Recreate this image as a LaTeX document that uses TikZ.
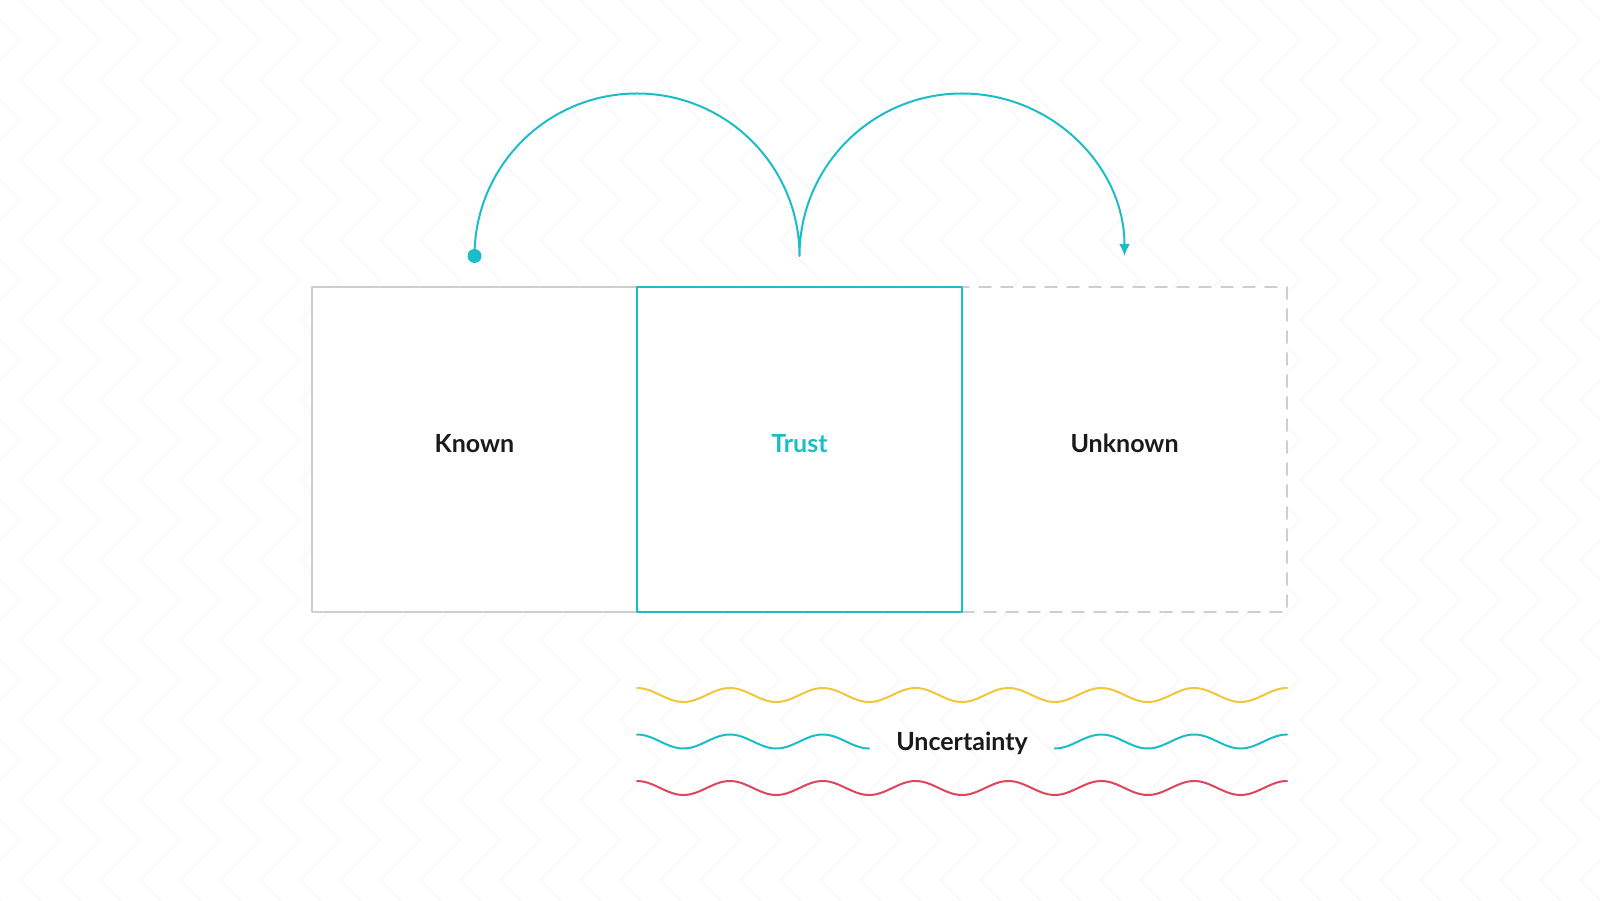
\documentclass[tikz,border=0pt]{standalone}
\usepackage{fontspec}
\setmainfont{Lato}
\usetikzlibrary{arrows.meta, positioning}

\definecolor{trustteal}{RGB}{27,190,199}
\definecolor{waveyellow}{RGB}{240,199,58}
\definecolor{wavered}{RGB}{221,70,95}
\definecolor{boxgrey}{RGB}{206,206,206}
\definecolor{zigzaggrey}{RGB}{247,245,250}
\definecolor{labelblack}{RGB}{26,26,26}

\tikzset{
	zone/.style={draw=boxgrey, line width=1.6pt, fill=white, minimum size=325pt,
		inner sep=0pt, outer sep=0pt, text=labelblack, text height=18pt, text depth=11pt},
	zigzag/.style={draw=zigzaggrey, line width=1.4pt},
	jump/.style={draw=trustteal, line width=2pt},
	wave/.style={line width=2pt},
}

\begin{document}
\begin{tikzpicture}[x=1pt, y=1pt, >=Latex, line cap=round, line join=round,
	font=\fontsize{25}{30}\selectfont\bfseries]

%========================
% Background: zigzag columns
%========================
\fill[white] (0,0) rectangle (1600,900);
\useasboundingbox (0,0) rectangle (1600,900);
\begin{scope}
	\clip (0,0) rectangle (1600,900);
	\foreach \k in {-1,...,39}
	\draw[zigzag] ({20+40*\k},900)
	\foreach \m in {1,...,23} { -- ({20+40*\k+40*mod(\m,2)},{900-40*\m}) };
\end{scope}

%========================
% Boxes: known | trust | unknown
%========================
\node[zone] (known) at (474.5,450.5) {Known};
\node[zone, right=0pt of known, draw=none] (trust) {};
\node[zone, right=0pt of trust, dash pattern=on 12pt off 10pt] (unknown) {Unknown};
% trust on top, so its teal border covers the shared edges
\node[zone, draw=trustteal, line width=2pt, text=trustteal, at=(trust)] (trustbox) {Trust};

%========================
% Jumps over the boxes
%========================
\coordinate (jumpstart) at ([yshift=31pt]known.north);
\coordinate (jumpend) at ([yshift=31pt]unknown.north);
\draw[jump, -{Latex[length=12pt, width=11pt]}] (jumpstart)
	arc[start angle=180, end angle=0, radius=162.5]
	arc[start angle=180, end angle=0, radius=162.5];
\fill[trustteal] (jumpstart) circle (7);

%========================
% Uncertainty waves (period 650/7, 3.87693 deg per pt)
%========================
\node[text=labelblack, inner sep=0pt, text height=18pt, text depth=0pt]
	(uncertainty) at ([yshift=-129.5pt]trustbox.south east) {Uncertainty};

\draw[wave, waveyellow] plot[domain=637:1287, samples=240]
	(\x, {205+7*cos(3.87693*(\x-637))});
\draw[wave, trustteal] plot[domain=637:869.14, samples=90]
	(\x, {158.5+7*cos(3.87693*(\x-637))});
\draw[wave, trustteal] plot[domain=1054.86:1287, samples=90]
	(\x, {158.5+7*cos(3.87693*(\x-637))});
\draw[wave, wavered] plot[domain=637:1287, samples=240]
	(\x, {112+7*cos(3.87693*(\x-637))});

\end{tikzpicture}
\end{document}
